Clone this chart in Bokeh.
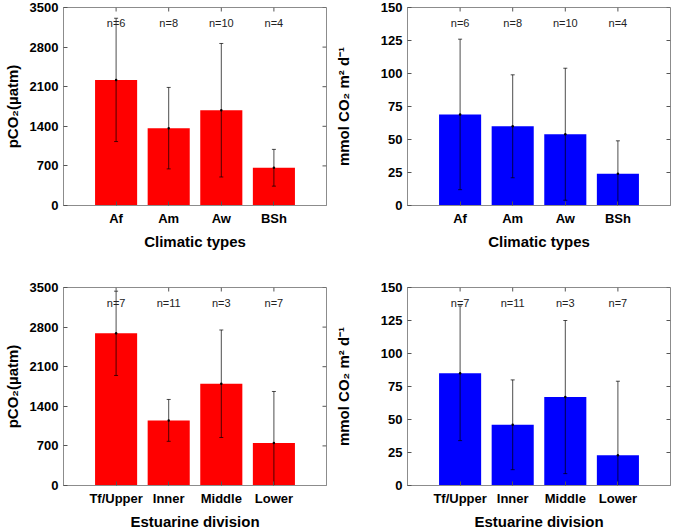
from bokeh.plotting import figure
from bokeh.layouts import column, row
from bokeh.models import FixedTicker, Range1d
from bokeh.embed import file_html
from bokeh.resources import INLINE
from bokeh.core.properties import value

# ---- data ----
climate_types = ["Af", "Am", "Aw", "BSh"]
climate_n = [6, 8, 10, 4]
climate_pco2_mean = [2220, 1367, 1684, 667]
climate_pco2_sd = [1090, 720, 1180, 325]
climate_flux_mean = [69, 60, 54, 24]
climate_flux_sd = [57, 39, 50, 25]

estuary_divisions = ["Tf/Upper", "Inner", "Middle", "Lower"]
estuary_n = [7, 11, 3, 7]
estuary_pco2_mean = [2690, 1151, 1799, 752]
estuary_pco2_sd = [745, 370, 950, 910]
estuary_flux_mean = [85, 46, 67, 23]
estuary_flux_sd = [51, 34, 58, 56]

pco2_ticks = [0, 700, 1400, 2100, 2800, 3500]
flux_ticks = [0, 25, 50, 75, 100, 125, 150]

FONT = "Liberation Sans"
EDGE = "#8c8c8c"
TICK = "#555555"
FW, FH = 263, 198
TICK_PX = 4


def panel(cats, ns, mean, sd, color, yticks, ylabel, xlabel,
          b_left, b_right, b_top, b_bottom, label_standoff):
    x = list(range(1, len(cats) + 1))
    xmax = len(cats) + 1
    ymax = yticks[-1]
    p = figure(frame_width=FW, frame_height=FH,
               x_range=Range1d(0, xmax), y_range=Range1d(0, ymax),
               output_backend="svg", toolbar_location=None,
               min_border_left=b_left, min_border_right=b_right,
               min_border_top=b_top, min_border_bottom=b_bottom)
    p.xgrid.visible = False
    p.ygrid.visible = False
    p.outline_line_color = EDGE
    p.background_fill_color = "white"

    p.vbar(x=x, top=mean, width=0.8, fill_color=color, line_color=None)
    lo = [m - s for m, s in zip(mean, sd)]
    hi = [m + s for m, s in zip(mean, sd)]
    p.segment(x0=x, y0=lo, x1=x, y1=hi, line_color="black", line_width=0.7)
    p.scatter(x=x, y=hi, marker="dash", size=4, line_color="black", line_width=0.7)
    p.scatter(x=x, y=lo, marker="dash", size=4, line_color="black", line_width=0.7)
    p.scatter(x=x, y=mean, marker="circle", size=2.5, fill_color="black", line_color=None)
    p.text(x=x, y=[ymax * 0.92] * len(x), text=["n=%d" % n for n in ns],
           text_align="center", text_baseline="middle",
           text_font=value(FONT), text_font_size="11px", text_color="#222222")

    # mirrored inward ticks on the top and right edges of the box
    dx = TICK_PX / FW * xmax
    dy = TICK_PX / FH * ymax
    p.segment(x0=[xmax] * len(yticks), y0=yticks, x1=[xmax - dx] * len(yticks), y1=yticks,
              line_color=TICK, line_width=1)
    p.segment(x0=x, y0=[ymax] * len(x), x1=x, y1=[ymax - dy] * len(x),
              line_color=TICK, line_width=1)

    for ax in (p.xaxis[0], p.yaxis[0]):
        ax.axis_line_color = EDGE
        ax.major_tick_line_color = TICK
        ax.major_tick_in = TICK_PX
        ax.major_tick_out = 0
        ax.minor_tick_line_color = None
        ax.major_label_text_font = FONT
        ax.major_label_text_font_style = "bold"
        ax.major_label_text_font_size = "13px"
        ax.major_label_text_color = "black"
        ax.axis_label_text_font = FONT
        ax.axis_label_text_font_style = "bold"
        ax.axis_label_text_font_size = "15px"
        ax.axis_label_text_color = "black"
        ax.major_label_standoff = 5
    p.xaxis[0].ticker = FixedTicker(ticks=x)
    p.xaxis[0].major_label_overrides = {i: c for i, c in zip(x, cats)}
    p.xaxis[0].axis_label = xlabel
    p.xaxis[0].axis_label_standoff = 4
    p.yaxis[0].ticker = FixedTicker(ticks=yticks)
    p.yaxis[0].axis_label = ylabel
    p.yaxis[0].axis_label_standoff = label_standoff
    return p


pco2_label = "pCO\u2082(\u00b5atm)"
flux_label = "mmol CO\u2082 m\u00b2 d\u207b\u00b9"

p1 = panel(climate_types, climate_n, climate_pco2_mean, climate_pco2_sd, "#ff0000",
           pco2_ticks, pco2_label, "Climatic types", 60, 5, 7, 40, 6)
p2 = panel(climate_types, climate_n, climate_flux_mean, climate_flux_sd, "#0000ff",
           flux_ticks, flux_label, "Climatic types", 72, 2, 7, 40, 26)
p3 = panel(estuary_divisions, estuary_n, estuary_pco2_mean, estuary_pco2_sd, "#ff0000",
           pco2_ticks, pco2_label, "Estuarine division", 60, 5, 35, 38, 6)
p4 = panel(estuary_divisions, estuary_n, estuary_flux_mean, estuary_flux_sd, "#0000ff",
           flux_ticks, flux_label, "Estuarine division", 72, 2, 35, 38, 26)

layout = column(row(p1, p2), row(p3, p4))
open("out.html", "w").write(file_html(layout, INLINE))
